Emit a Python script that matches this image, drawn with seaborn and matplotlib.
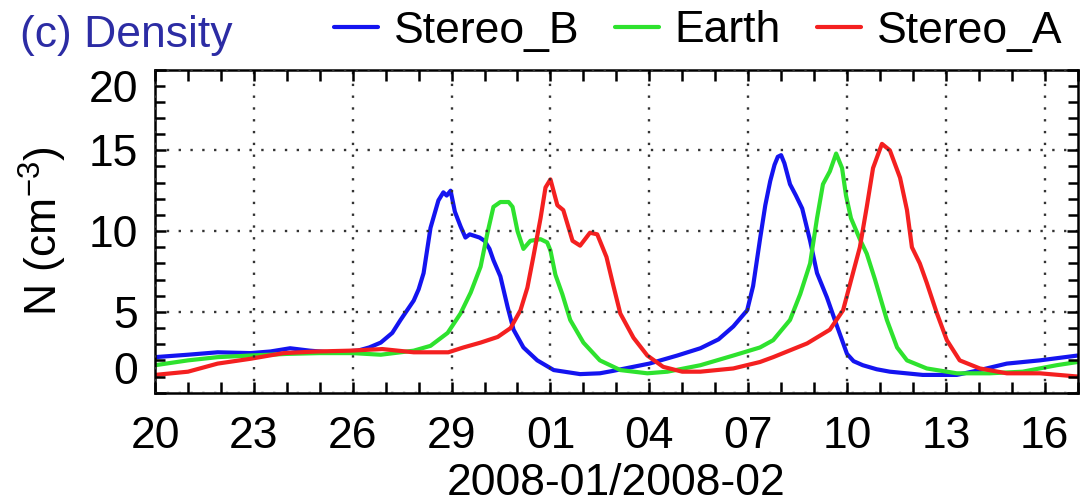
import numpy as np
import pandas as pd
import matplotlib
matplotlib.use("Agg")
import matplotlib.pyplot as plt
from matplotlib.lines import Line2D
from matplotlib.ticker import FixedLocator, MultipleLocator
import matplotlib.dates as mdates
import seaborn as sns

# Solar wind proton density at three vantage points, Jan 20 - Feb 17 2008
start = pd.Timestamp("2008-01-20")
end = pd.Timestamp("2008-02-17")

probes = ["Stereo_B", "Earth", "Stereo_A"]
colors = ["#1414f0", "#2ee22e", "#f42020"]

# time in days since 2008-01-20, density in cm^-3
stb_day = [0.0, 1.0, 1.9, 2.9, 3.5, 4.1, 4.7, 5.3, 6.15, 6.5, 6.85, 7.2, 7.45,
           7.85, 8.0, 8.15, 8.36, 8.6, 8.75, 8.85, 8.97, 9.1, 9.27, 9.42, 9.55,
           9.7, 9.85, 10.0, 10.15, 10.27, 10.48, 10.7, 10.88, 11.18, 11.6,
           12.1, 12.9, 13.5, 13.9, 15.0, 15.85, 16.55, 17.1, 17.55, 17.97,
           18.15, 18.36, 18.52, 18.67, 18.8, 18.9, 19.0, 19.1, 19.27, 19.45,
           19.64, 19.88, 20.09, 20.39, 20.7, 21.0, 21.2, 21.48, 21.9, 22.3,
           23.3, 24.33, 25.03, 25.85, 26.85, 28.0]
stb_n = [2.2, 2.35, 2.5, 2.45, 2.55, 2.75, 2.6, 2.5, 2.6, 2.8, 3.1, 3.7, 4.5,
         5.7, 6.4, 7.4, 10.2, 11.9, 12.4, 12.2, 12.5, 11.2, 10.3, 9.6, 9.8,
         9.7, 9.6, 9.4, 8.9, 8.2, 7.2, 5.3, 3.9, 2.8, 2.0,
         1.4, 1.15, 1.2, 1.35, 1.8, 2.3, 2.75, 3.3, 4.1, 5.1,
         6.6, 9.5, 11.6, 13.1, 14.1, 14.6, 14.7, 14.2, 12.9, 12.2,
         11.4, 9.4, 7.4, 5.9, 4.1, 2.4, 1.95, 1.7, 1.45, 1.3,
         1.1, 1.1, 1.4, 1.8, 2.0, 2.3]

earth_day = [0.0, 1.0, 1.9, 2.9, 4.0, 5.0, 6.0, 6.85, 7.85, 8.36, 8.88, 9.27,
             9.58, 9.88, 10.09, 10.27, 10.48, 10.73, 10.85, 11.0, 11.18, 11.39,
             11.7, 11.9, 12.0, 12.15, 12.36, 12.6, 13.0, 13.5, 14.12, 14.94,
             15.55, 16.55, 17.55, 18.36, 18.76, 19.27, 19.58, 19.88, 20.09,
             20.27, 20.48, 20.67, 20.85, 20.97, 21.12, 21.39, 21.6, 21.85,
             22.21, 22.52, 22.82, 23.42, 24.33, 25.33, 26.33, 27.36, 28.0]
earth_n = [1.7, 2.0, 2.2, 2.3, 2.4, 2.45, 2.45, 2.35, 2.6, 2.9, 3.7, 4.9,
           6.2, 7.8, 9.9, 11.5, 11.8, 11.8, 11.5, 10.0, 8.9, 9.4,
           9.5, 9.3, 8.8, 7.3, 6.1, 4.5, 3.1, 2.0, 1.4, 1.2,
           1.3, 1.7, 2.3, 2.8, 3.25, 4.5, 6.1, 8.0, 10.8,
           12.9, 13.7, 14.8, 13.9, 12.2, 10.8, 9.5, 8.6, 7.0,
           4.5, 2.8, 2.0, 1.5, 1.2, 1.2, 1.3, 1.7, 1.9]

sta_day = [0.0, 1.0, 1.9, 2.9, 3.9, 4.9, 5.9, 6.9, 7.85, 8.9, 9.36, 9.88,
           10.4, 10.79, 11.09, 11.3, 11.48, 11.7, 11.85, 12.0, 12.21, 12.39,
           12.67, 12.9, 13.2, 13.42, 13.7, 13.9, 14.12, 14.52, 14.94, 15.42,
           16.0, 16.55, 17.55, 18.36, 18.76, 19.79, 20.48, 20.88, 21.18,
           21.39, 21.6, 21.79, 22.06, 22.3, 22.61, 22.82, 22.97, 23.21, 23.42,
           23.73, 24.03, 24.42, 25.03, 25.85, 26.85, 28.0]
sta_n = [1.1, 1.3, 1.8, 2.1, 2.45, 2.55, 2.6, 2.7, 2.5, 2.5, 2.8, 3.1,
         3.45, 4.0, 5.1, 6.5, 8.4, 10.8, 12.7, 13.2, 11.6, 11.3,
         9.4, 9.1, 9.9, 9.8, 8.4, 6.7, 4.9, 3.4, 2.3, 1.6,
         1.3, 1.3, 1.5, 1.9, 2.2, 3.05, 3.9, 5.1, 7.4,
         9.0, 11.5, 13.9, 15.4, 15.0, 13.3, 11.3, 9.0, 8.0, 6.8,
         4.9, 3.25, 2.0, 1.5, 1.2, 1.2, 1.0]

x_tick_labels = ["20", "23", "26", "29", "01", "04", "07", "10", "13", "16"]
y_ticks = [0, 5, 10, 15, 20]

frames = []
for name, d, n in zip(probes, [stb_day, earth_day, sta_day], [stb_n, earth_n, sta_n]):
    frames.append(pd.DataFrame({
        "time": start + pd.to_timedelta(np.asarray(d), unit="D"),
        "N": n,
        "probe": name,
    }))
df = pd.concat(frames, ignore_index=True)

sns.set_theme(style="white")
plt.rcParams["font.family"] = ["Liberation Sans", "DejaVu Sans"]
plt.rcParams["mathtext.default"] = "regular"
for key in ["text.color", "axes.labelcolor", "xtick.color", "ytick.color"]:
    plt.rcParams[key] = "black"
# IDL-style frame: inward ticks on all four sides
plt.rcParams.update({
    "axes.axisbelow": False,
    "xtick.bottom": True, "xtick.top": True,
    "ytick.left": True, "ytick.right": True,
    "xtick.direction": "in", "ytick.direction": "in",
    "xtick.major.size": 8, "xtick.minor.size": 8,
    "ytick.major.size": 8, "ytick.minor.size": 7,
    "xtick.major.width": 1.8, "xtick.minor.width": 1.8,
    "ytick.major.width": 1.8, "ytick.minor.width": 1.8,
})
FS = 32
LW = 3.0

fig = plt.figure(figsize=(10.88, 5.03), dpi=100)
ax = fig.add_axes([0.1425, 0.2193, 0.8480, 0.6425])

sns.lineplot(data=df, x="time", y="N", hue="probe", hue_order=probes,
             palette=colors, linewidth=LW, estimator=None, sort=False,
             ax=ax, legend=False)

ax.set_xlim(start, end)
ax.set_ylim(0, 20)

major_dates = pd.date_range(start, periods=len(x_tick_labels), freq="3D")
minor_dates = pd.date_range(start, end, freq="D")
ax.xaxis.set_major_locator(FixedLocator(mdates.date2num(major_dates)))
ax.xaxis.set_minor_locator(FixedLocator(mdates.date2num(minor_dates)))
ax.set_xticklabels(x_tick_labels)
ax.set_yticks(y_ticks)
ax.set_yticklabels([str(v) for v in y_ticks])
ax.yaxis.set_minor_locator(MultipleLocator(1))

ax.set_axisbelow(False)
ax.grid(True, which="major", color="#333333", linestyle=(0, (1, 4)), linewidth=1.7)
ax.tick_params(which="both", direction="in", bottom=True, left=True,
               top=True, right=True, colors="black")
ax.tick_params(axis="x", which="major", labelsize=FS, pad=17)
ax.tick_params(axis="y", which="major", labelsize=FS, pad=12)
for s in ax.spines.values():
    s.set_visible(True)
    s.set_color("black")
    s.set_linewidth(1.8)

# keep the end labels of the density axis inside the frame
ylabels = ax.get_yticklabels()
ylabels[0].set_verticalalignment("bottom")
ylabels[-1].set_verticalalignment("top")

ax.set_xlabel("2008-01/2008-02", fontsize=FS, labelpad=4)
ax.set_ylabel("N (cm$^{-3}$)", fontsize=FS, labelpad=14)

fig.text(20 / 1088, 1 - 47 / 503, "(c) Density", color="#2c2ca4",
         fontsize=FS, va="baseline", ha="left")

handles = [Line2D([], [], color=c, linewidth=LW) for c in colors]
ax.legend(handles, probes, loc="center right",
          bbox_to_anchor=(1062 / 1088, 1 - 31 / 503),
          bbox_transform=fig.transFigure, ncol=3, frameon=False,
          fontsize=FS, handlelength=1.0, handletextpad=0.35,
          columnspacing=0.8, borderpad=0, borderaxespad=0)

fig.savefig("out.png", dpi=100)
